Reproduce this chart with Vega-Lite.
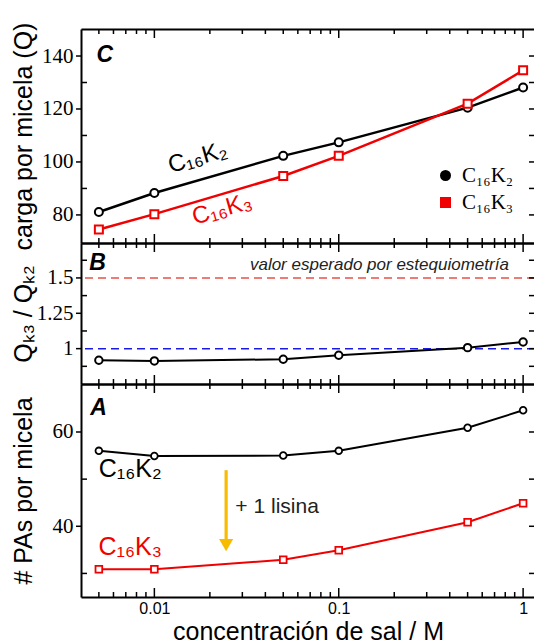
{
  "$schema": "https://vega.github.io/schema/vega-lite/v6.json",
  "padding": {"left": 10, "top": 22, "right": 0, "bottom": 0},
  "spacing": 0,
  "bounds": "flush",
  "resolve": {"scale": {"stroke": "independent", "shape": "independent", "fill": "independent"}, "legend": {"stroke": "independent", "shape": "independent", "fill": "independent"}},
  "config": {
    "view": {"stroke": null},
    "axis": {"grid": false, "domainColor": "#000", "labelColor": "#000", "titleColor": "#000", "labelFont": "Liberation Serif", "titleFont": "Liberation Sans", "titleFontWeight": "normal", "domainWidth": 2, "labelOverlap": false, "labelFlush": false}
  },
  "datasets": {
    "q": [
      {"conc": 0.005, "series": "C₁₆K₂", "value": 81.1},
      {"conc": 0.01, "series": "C₁₆K₂", "value": 88.3},
      {"conc": 0.05, "series": "C₁₆K₂", "value": 102.3},
      {"conc": 0.1, "series": "C₁₆K₂", "value": 107.4},
      {"conc": 0.5, "series": "C₁₆K₂", "value": 120.5},
      {"conc": 1, "series": "C₁₆K₂", "value": 128.1},
      {"conc": 0.005, "series": "C₁₆K₃", "value": 74.5},
      {"conc": 0.01, "series": "C₁₆K₃", "value": 80.3},
      {"conc": 0.05, "series": "C₁₆K₃", "value": 94.7},
      {"conc": 0.1, "series": "C₁₆K₃", "value": 102.3},
      {"conc": 0.5, "series": "C₁₆K₃", "value": 122.0},
      {"conc": 1, "series": "C₁₆K₃", "value": 134.6}
    ],
    "ratio": [
      {"conc": 0.005, "value": 0.918},
      {"conc": 0.01, "value": 0.913},
      {"conc": 0.05, "value": 0.925},
      {"conc": 0.1, "value": 0.953},
      {"conc": 0.5, "value": 1.007},
      {"conc": 1, "value": 1.047}
    ],
    "pas": [
      {"conc": 0.005, "series": "C₁₆K₂", "value": 56.0},
      {"conc": 0.01, "series": "C₁₆K₂", "value": 54.9},
      {"conc": 0.05, "series": "C₁₆K₂", "value": 55.0},
      {"conc": 0.1, "series": "C₁₆K₂", "value": 56.0},
      {"conc": 0.5, "series": "C₁₆K₂", "value": 60.9},
      {"conc": 1, "series": "C₁₆K₂", "value": 64.6},
      {"conc": 0.005, "series": "C₁₆K₃", "value": 30.9},
      {"conc": 0.01, "series": "C₁₆K₃", "value": 30.9},
      {"conc": 0.05, "series": "C₁₆K₃", "value": 32.9},
      {"conc": 0.1, "series": "C₁₆K₃", "value": 34.9},
      {"conc": 0.5, "series": "C₁₆K₃", "value": 40.85},
      {"conc": 1, "series": "C₁₆K₃", "value": 44.9}
    ],
    "cLab": [
      {"conc": 0.0172, "value": 101.5, "series": "C₁₆K₂"},
      {"conc": 0.0233, "value": 82.0, "series": "C₁₆K₃"}
    ],
    "aLab": [
      {"conc": 0.0074, "value": 52.2, "series": "C₁₆K₂"},
      {"conc": 0.0074, "value": 35.6, "series": "C₁₆K₃"}
    ],
    "xMaj": [{"t": 0.01}, {"t": 0.1}, {"t": 1}],
    "xMin": [{"t": 0.005}, {"t": 0.006}, {"t": 0.007}, {"t": 0.008}, {"t": 0.009}, {"t": 0.02}, {"t": 0.03}, {"t": 0.04}, {"t": 0.05}, {"t": 0.06}, {"t": 0.07}, {"t": 0.08}, {"t": 0.09}, {"t": 0.2}, {"t": 0.3}, {"t": 0.4}, {"t": 0.5}, {"t": 0.6}, {"t": 0.7}, {"t": 0.8}, {"t": 0.9}],
    "cYMaj": [{"t": 80}, {"t": 100}, {"t": 120}, {"t": 140}],
    "cYMin": [{"t": 90}, {"t": 110}, {"t": 130}],
    "cYAll": [{"t": 80}, {"t": 90}, {"t": 100}, {"t": 110}, {"t": 120}, {"t": 130}, {"t": 140}],
    "bYMaj": [{"t": 1}, {"t": 1.25}, {"t": 1.5}],
    "bYMin": [{"t": 0.875}, {"t": 1.125}, {"t": 1.375}, {"t": 1.625}],
    "bYAll": [{"t": 0.875}, {"t": 1}, {"t": 1.125}, {"t": 1.25}, {"t": 1.375}, {"t": 1.5}, {"t": 1.625}],
    "aYMaj": [{"t": 40}, {"t": 60}],
    "aYMin": [{"t": 30}, {"t": 50}],
    "aYAll": [{"t": 30}, {"t": 40}, {"t": 50}, {"t": 60}]
  },
  "vconcat": [
    {
      "width": 454, "height": 214,
      "resolve": {"axis": {"x": "independent", "y": "independent"}},
      "layer": [
        {
          "data": {"name": "q"},
          "mark": {"type": "line", "strokeWidth": 2.5},
          "encoding": {
            "x": {"field": "conc", "type": "quantitative", "scale": {"type": "log", "domain": [0.004, 1.16], "nice": false},
              "axis": {"orient": "bottom", "values": [0.01, 0.1, 1], "ticks": false, "labels": false, "title": null}},
            "y": {"field": "value", "type": "quantitative", "scale": {"domain": [69.4, 150.2], "nice": false, "zero": false},
              "axis": {"orient": "left", "values": [80, 100, 120, 140], "ticks": false, "labelFontSize": 21, "labelPadding": 8,
                "title": "carga por micela (Q)", "titleFontSize": 25, "titleX": -45}},
            "stroke": {"field": "series", "type": "nominal", "scale": {"domain": ["C₁₆K₂", "C₁₆K₃"], "range": ["#000000", "#f00000"]},
              "legend": {"orient": "none", "legendX": 354, "legendY": 136, "title": null, "labelFont": "Liberation Serif", "labelFontSize": 21, "labelColor": "#000", "symbolSize": 81, "symbolStrokeWidth": 2, "symbolFillColor": "white", "symbolOpacity": 1, "labelOffset": 6, "rowPadding": 5, "padding": 0,
                "encode": {"symbols": {"update": {"fill": {"value": "white"}, "strokeWidth": {"value": 2}}}}}}
          }
        },
        {
          "data": {"name": "q"},
          "mark": {"type": "point", "fill": "white", "strokeWidth": 2, "size": 64, "opacity": 1},
          "encoding": {
            "x": {"field": "conc", "type": "quantitative", "scale": {"type": "log", "domain": [0.004, 1.16], "nice": false},
              "axis": {"orient": "top", "values": [0.01, 0.1, 1], "ticks": false, "labels": false, "title": null}},
            "y": {"field": "value", "type": "quantitative", "scale": {"domain": [69.4, 150.2], "nice": false, "zero": false}, "axis": null},
            "stroke": {"field": "series", "type": "nominal", "scale": {"domain": ["C₁₆K₂", "C₁₆K₃"], "range": ["#000000", "#f00000"]},
              "legend": {"orient": "none", "legendX": 354, "legendY": 136, "title": null, "labelFont": "Liberation Serif", "labelFontSize": 21, "labelColor": "#000", "symbolSize": 81, "symbolStrokeWidth": 2, "symbolFillColor": "white", "symbolOpacity": 1, "labelOffset": 6, "rowPadding": 5, "padding": 0,
                "encode": {"symbols": {"update": {"fill": {"value": "white"}, "strokeWidth": {"value": 2}}}}}},
            "shape": {"field": "series", "type": "nominal", "scale": {"domain": ["C₁₆K₂", "C₁₆K₃"], "range": ["circle", "square"]},
              "legend": {"orient": "none", "legendX": 354, "legendY": 136, "title": null, "labelFont": "Liberation Serif", "labelFontSize": 21, "labelColor": "#000", "symbolSize": 81, "symbolStrokeWidth": 2, "symbolFillColor": "white", "symbolOpacity": 1, "labelOffset": 6, "rowPadding": 5, "padding": 0,
                "encode": {"symbols": {"update": {"fill": {"value": "white"}, "strokeWidth": {"value": 2}}}}}}
          }
        },
        {
          "data": {"name": "cLab"},
          "mark": {"type": "text", "font": "Liberation Sans", "fontSize": 24, "angle": 344, "align": "center", "baseline": "middle"},
          "encoding": {
            "x": {"field": "conc", "type": "quantitative", "scale": {"type": "log", "domain": [0.004, 1.16], "nice": false}, "axis": null},
            "y": {"field": "value", "type": "quantitative", "scale": {"domain": [69.4, 150.2], "nice": false, "zero": false}, "axis": null},
            "text": {"field": "series"},
            "fill": {"field": "series", "type": "nominal", "scale": {"domain": ["C₁₆K₂", "C₁₆K₃"], "range": ["#000000", "#f00000"]}, "legend": null}
          }
        },
        {
          "data": {"values": [{"conc": 0.00485, "value": 140.4, "label": "C"}]},
          "mark": {"type": "text", "font": "Liberation Sans", "fontSize": 23, "fontWeight": "bold", "fontStyle": "italic", "align": "left", "baseline": "middle", "color": "#000"},
          "encoding": {
            "x": {"field": "conc", "type": "quantitative", "scale": {"type": "log", "domain": [0.004, 1.16], "nice": false}, "axis": null},
            "y": {"field": "value", "type": "quantitative", "scale": {"domain": [69.4, 150.2], "nice": false, "zero": false}, "axis": null},
            "text": {"field": "label"}
          }
        },
        {"data": {"name": "xMaj"}, "mark": {"type": "rule", "strokeWidth": 1.5, "color": "#000"},
          "encoding": {"x": {"field": "t", "type": "quantitative", "scale": {"type": "log", "domain": [0.004, 1.16], "nice": false}, "axis": null},
            "y": {"datum": 69.4, "type": "quantitative", "scale": {"domain": [69.4, 150.2], "nice": false, "zero": false}, "axis": null}, "y2": {"datum": 72.8}}},
        {"data": {"name": "xMin"}, "mark": {"type": "rule", "strokeWidth": 1.5, "color": "#000"},
          "encoding": {"x": {"field": "t", "type": "quantitative", "scale": {"type": "log", "domain": [0.004, 1.16], "nice": false}, "axis": null},
            "y": {"datum": 69.4, "type": "quantitative", "scale": {"domain": [69.4, 150.2], "nice": false, "zero": false}, "axis": null}, "y2": {"datum": 71.29}}},
        {"data": {"name": "xMaj"}, "mark": {"type": "rule", "strokeWidth": 1.5, "color": "#000"},
          "encoding": {"x": {"field": "t", "type": "quantitative", "scale": {"type": "log", "domain": [0.004, 1.16], "nice": false}, "axis": null},
            "y": {"datum": 150.2, "type": "quantitative", "scale": {"domain": [69.4, 150.2], "nice": false, "zero": false}, "axis": null}, "y2": {"datum": 146.8}}},
        {"data": {"name": "xMin"}, "mark": {"type": "rule", "strokeWidth": 1.5, "color": "#000"},
          "encoding": {"x": {"field": "t", "type": "quantitative", "scale": {"type": "log", "domain": [0.004, 1.16], "nice": false}, "axis": null},
            "y": {"datum": 150.2, "type": "quantitative", "scale": {"domain": [69.4, 150.2], "nice": false, "zero": false}, "axis": null}, "y2": {"datum": 148.31}}},
        {"data": {"name": "cYMaj"}, "mark": {"type": "rule", "strokeWidth": 1.5, "color": "#000"},
          "encoding": {"y": {"field": "t", "type": "quantitative", "scale": {"domain": [69.4, 150.2], "nice": false, "zero": false}, "axis": null},
            "x": {"datum": 0.004, "type": "quantitative", "scale": {"type": "log", "domain": [0.004, 1.16], "nice": false}, "axis": null}, "x2": {"datum": 0.003758}}},
        {"data": {"name": "cYMin"}, "mark": {"type": "rule", "strokeWidth": 1.5, "color": "#000"},
          "encoding": {"y": {"field": "t", "type": "quantitative", "scale": {"domain": [69.4, 150.2], "nice": false, "zero": false}, "axis": null},
            "x": {"datum": 0.004, "type": "quantitative", "scale": {"type": "log", "domain": [0.004, 1.16], "nice": false}, "axis": null}, "x2": {"datum": 0.004311}}},
        {"data": {"name": "cYAll"}, "mark": {"type": "rule", "strokeWidth": 1.5, "color": "#000"},
          "encoding": {"y": {"field": "t", "type": "quantitative", "scale": {"domain": [69.4, 150.2], "nice": false, "zero": false}, "axis": null},
            "x": {"datum": 1.16, "type": "quantitative", "scale": {"type": "log", "domain": [0.004, 1.16], "nice": false}, "axis": null}, "x2": {"datum": 1.0763}}}
      ]
    },
    {
      "width": 454, "height": 141,
      "resolve": {"axis": {"x": "independent", "y": "independent"}},
      "layer": [
        {
          "data": {"values": [{"ref": 1.5}]},
          "mark": {"type": "rule", "color": "#e8504a", "strokeDash": [8, 5], "strokeWidth": 1.5},
          "encoding": {"y": {"field": "ref", "type": "quantitative", "scale": {"domain": [0.75, 1.747], "nice": false, "zero": false}, "axis": null}}
        },
        {
          "data": {"values": [{"ref": 1.0}]},
          "mark": {"type": "rule", "color": "#1a1ae6", "strokeDash": [8, 5], "strokeWidth": 1.5},
          "encoding": {"y": {"field": "ref", "type": "quantitative", "scale": {"domain": [0.75, 1.747], "nice": false, "zero": false}, "axis": null}}
        },
        {
          "data": {"name": "ratio"},
          "mark": {"type": "line", "strokeWidth": 2, "color": "#000"},
          "encoding": {
            "x": {"field": "conc", "type": "quantitative", "scale": {"type": "log", "domain": [0.004, 1.16], "nice": false},
              "axis": {"orient": "bottom", "values": [0.01, 0.1, 1], "ticks": false, "labels": false, "title": null}},
            "y": {"field": "value", "type": "quantitative", "scale": {"domain": [0.75, 1.747], "nice": false, "zero": false},
              "axis": {"orient": "left", "values": [1, 1.25, 1.5], "labelExpr": "datum.value == 1 ? '1' : datum.value == 1.25 ? '1.25' : '1.5'", "ticks": false, "labelFontSize": 21, "labelPadding": 8,
                "title": "Qₖ₃ / Qₖ₂", "titleFontSize": 25, "titleX": -45}}
          }
        },
        {
          "data": {"name": "ratio"},
          "mark": {"type": "point", "fill": "white", "stroke": "#000", "strokeWidth": 2, "size": 55, "opacity": 1, "shape": "circle"},
          "encoding": {
            "x": {"field": "conc", "type": "quantitative", "scale": {"type": "log", "domain": [0.004, 1.16], "nice": false},
              "axis": {"orient": "top", "values": [0.01, 0.1, 1], "ticks": false, "labels": false, "title": null}},
            "y": {"field": "value", "type": "quantitative", "scale": {"domain": [0.75, 1.747], "nice": false, "zero": false}, "axis": null}
          }
        },
        {
          "data": {"values": [{"conc": 0.00444, "value": 1.607, "label": "B"}]},
          "mark": {"type": "text", "font": "Liberation Sans", "fontSize": 23, "fontWeight": "bold", "fontStyle": "italic", "align": "left", "baseline": "middle", "color": "#000"},
          "encoding": {
            "x": {"field": "conc", "type": "quantitative", "scale": {"type": "log", "domain": [0.004, 1.16], "nice": false}, "axis": null},
            "y": {"field": "value", "type": "quantitative", "scale": {"domain": [0.75, 1.747], "nice": false, "zero": false}, "axis": null},
            "text": {"field": "label"}
          }
        },
        {
          "data": {"values": [{"conc": 0.837, "value": 1.593, "label": "valor esperado por estequiometría"}]},
          "mark": {"type": "text", "font": "Liberation Sans", "fontSize": 17, "fontStyle": "italic", "align": "right", "baseline": "middle", "color": "#222"},
          "encoding": {
            "x": {"field": "conc", "type": "quantitative", "scale": {"type": "log", "domain": [0.004, 1.16], "nice": false}, "axis": null},
            "y": {"field": "value", "type": "quantitative", "scale": {"domain": [0.75, 1.747], "nice": false, "zero": false}, "axis": null},
            "text": {"field": "label"}
          }
        },
        {"data": {"name": "xMaj"}, "mark": {"type": "rule", "strokeWidth": 1.5, "color": "#000"},
          "encoding": {"x": {"field": "t", "type": "quantitative", "scale": {"type": "log", "domain": [0.004, 1.16], "nice": false}, "axis": null},
            "y": {"datum": 0.75, "type": "quantitative", "scale": {"domain": [0.75, 1.747], "nice": false, "zero": false}, "axis": null}, "y2": {"datum": 0.8136}}},
        {"data": {"name": "xMin"}, "mark": {"type": "rule", "strokeWidth": 1.5, "color": "#000"},
          "encoding": {"x": {"field": "t", "type": "quantitative", "scale": {"type": "log", "domain": [0.004, 1.16], "nice": false}, "axis": null},
            "y": {"datum": 0.75, "type": "quantitative", "scale": {"domain": [0.75, 1.747], "nice": false, "zero": false}, "axis": null}, "y2": {"datum": 0.7854}}},
        {"data": {"name": "xMaj"}, "mark": {"type": "rule", "strokeWidth": 1.5, "color": "#000"},
          "encoding": {"x": {"field": "t", "type": "quantitative", "scale": {"type": "log", "domain": [0.004, 1.16], "nice": false}, "axis": null},
            "y": {"datum": 1.747, "type": "quantitative", "scale": {"domain": [0.75, 1.747], "nice": false, "zero": false}, "axis": null}, "y2": {"datum": 1.6834}}},
        {"data": {"name": "xMin"}, "mark": {"type": "rule", "strokeWidth": 1.5, "color": "#000"},
          "encoding": {"x": {"field": "t", "type": "quantitative", "scale": {"type": "log", "domain": [0.004, 1.16], "nice": false}, "axis": null},
            "y": {"datum": 1.747, "type": "quantitative", "scale": {"domain": [0.75, 1.747], "nice": false, "zero": false}, "axis": null}, "y2": {"datum": 1.7116}}},
        {"data": {"name": "bYMaj"}, "mark": {"type": "rule", "strokeWidth": 1.5, "color": "#000"},
          "encoding": {"y": {"field": "t", "type": "quantitative", "scale": {"domain": [0.75, 1.747], "nice": false, "zero": false}, "axis": null},
            "x": {"datum": 0.004, "type": "quantitative", "scale": {"type": "log", "domain": [0.004, 1.16], "nice": false}, "axis": null}, "x2": {"datum": 0.003758}}},
        {"data": {"name": "bYMin"}, "mark": {"type": "rule", "strokeWidth": 1.5, "color": "#000"},
          "encoding": {"y": {"field": "t", "type": "quantitative", "scale": {"domain": [0.75, 1.747], "nice": false, "zero": false}, "axis": null},
            "x": {"datum": 0.004, "type": "quantitative", "scale": {"type": "log", "domain": [0.004, 1.16], "nice": false}, "axis": null}, "x2": {"datum": 0.004311}}},
        {"data": {"name": "bYAll"}, "mark": {"type": "rule", "strokeWidth": 1.5, "color": "#000"},
          "encoding": {"y": {"field": "t", "type": "quantitative", "scale": {"domain": [0.75, 1.747], "nice": false, "zero": false}, "axis": null},
            "x": {"datum": 1.16, "type": "quantitative", "scale": {"type": "log", "domain": [0.004, 1.16], "nice": false}, "axis": null}, "x2": {"datum": 1.0763}}}
      ]
    },
    {
      "width": 454, "height": 213,
      "resolve": {"axis": {"x": "independent", "y": "independent"}},
      "layer": [
        {
          "data": {"name": "pas"},
          "mark": {"type": "line", "strokeWidth": 2},
          "encoding": {
            "x": {"field": "conc", "type": "quantitative", "scale": {"type": "log", "domain": [0.004, 1.16], "nice": false},
              "axis": {"orient": "bottom", "values": [0.01, 0.1, 1], "ticks": false,
                "labelExpr": "datum.value == 0.01 ? '0.01' : datum.value == 0.1 ? '0.1' : '1'", "labelFont": "Liberation Sans", "labelFontSize": 16, "labelPadding": 3,
                "title": "concentración de sal / M", "titleFontSize": 25, "titlePadding": 3}},
            "y": {"field": "value", "type": "quantitative", "scale": {"domain": [25, 70.18], "nice": false, "zero": false},
              "axis": {"orient": "left", "values": [40, 60], "ticks": false, "labelFontSize": 21, "labelPadding": 8,
                "title": "# PAs por micela", "titleFontSize": 25, "titleX": -45}},
            "stroke": {"field": "series", "type": "nominal", "scale": {"domain": ["C₁₆K₂", "C₁₆K₃"], "range": ["#000000", "#f00000"]}, "legend": null}
          }
        },
        {
          "data": {"name": "pas"},
          "transform": [{"filter": "datum.series == 'C₁₆K₂'"}],
          "mark": {"type": "point", "shape": "circle", "fill": "white", "stroke": "#000000", "strokeWidth": 1.8, "size": 45, "opacity": 1},
          "encoding": {
            "x": {"field": "conc", "type": "quantitative", "scale": {"type": "log", "domain": [0.004, 1.16], "nice": false},
              "axis": {"orient": "top", "values": [0.01, 0.1, 1], "ticks": false, "labels": false, "title": null}},
            "y": {"field": "value", "type": "quantitative", "scale": {"domain": [25, 70.18], "nice": false, "zero": false}, "axis": null}
          }
        },
        {
          "data": {"name": "pas"},
          "transform": [{"filter": "datum.series == 'C₁₆K₃'"}],
          "mark": {"type": "point", "shape": "square", "fill": "white", "stroke": "#f00000", "strokeWidth": 1.8, "size": 45, "opacity": 1},
          "encoding": {
            "x": {"field": "conc", "type": "quantitative", "scale": {"type": "log", "domain": [0.004, 1.16], "nice": false}, "axis": null},
            "y": {"field": "value", "type": "quantitative", "scale": {"domain": [25, 70.18], "nice": false, "zero": false}, "axis": null}
          }
        },
        {
          "data": {"name": "aLab"},
          "mark": {"type": "text", "font": "Liberation Sans", "fontSize": 25, "align": "center", "baseline": "middle"},
          "encoding": {
            "x": {"field": "conc", "type": "quantitative", "scale": {"type": "log", "domain": [0.004, 1.16], "nice": false}, "axis": null},
            "y": {"field": "value", "type": "quantitative", "scale": {"domain": [25, 70.18], "nice": false, "zero": false}, "axis": null},
            "text": {"field": "series"},
            "fill": {"field": "series", "type": "nominal", "scale": {"domain": ["C₁₆K₂", "C₁₆K₃"], "range": ["#000000", "#f00000"]}, "legend": null}
          }
        },
        {
          "data": {"values": [{"conc": 0.00449, "value": 65.1, "label": "A"}]},
          "mark": {"type": "text", "font": "Liberation Sans", "fontSize": 23, "fontWeight": "bold", "fontStyle": "italic", "align": "left", "baseline": "middle", "color": "#000"},
          "encoding": {
            "x": {"field": "conc", "type": "quantitative", "scale": {"type": "log", "domain": [0.004, 1.16], "nice": false}, "axis": null},
            "y": {"field": "value", "type": "quantitative", "scale": {"domain": [25, 70.18], "nice": false, "zero": false}, "axis": null},
            "text": {"field": "label"}
          }
        },
        {
          "data": {"values": [{"conc": 0.0245, "top": 51.9, "bottom": 37.0}]},
          "mark": {"type": "rule", "color": "#f7bb00", "strokeWidth": 3.2},
          "encoding": {
            "x": {"field": "conc", "type": "quantitative", "scale": {"type": "log", "domain": [0.004, 1.16], "nice": false}, "axis": null},
            "y": {"field": "top", "type": "quantitative", "scale": {"domain": [25, 70.18], "nice": false, "zero": false}, "axis": null},
            "y2": {"field": "bottom"}
          }
        },
        {
          "data": {"values": [{"conc": 0.0245, "value": 36.0}]},
          "mark": {"type": "point", "shape": "triangle-down", "filled": true, "color": "#f7bb00", "size": 200, "opacity": 1},
          "encoding": {
            "x": {"field": "conc", "type": "quantitative", "scale": {"type": "log", "domain": [0.004, 1.16], "nice": false}, "axis": null},
            "y": {"field": "value", "type": "quantitative", "scale": {"domain": [25, 70.18], "nice": false, "zero": false}, "axis": null}
          }
        },
        {
          "data": {"values": [{"conc": 0.0275, "value": 44.1, "label": "+ 1 lisina"}]},
          "mark": {"type": "text", "font": "Liberation Sans", "fontSize": 21, "align": "left", "baseline": "middle", "color": "#222"},
          "encoding": {
            "x": {"field": "conc", "type": "quantitative", "scale": {"type": "log", "domain": [0.004, 1.16], "nice": false}, "axis": null},
            "y": {"field": "value", "type": "quantitative", "scale": {"domain": [25, 70.18], "nice": false, "zero": false}, "axis": null},
            "text": {"field": "label"}
          }
        },
        {"data": {"name": "xMaj"}, "mark": {"type": "rule", "strokeWidth": 1.5, "color": "#000"},
          "encoding": {"x": {"field": "t", "type": "quantitative", "scale": {"type": "log", "domain": [0.004, 1.16], "nice": false}, "axis": null},
            "y": {"datum": 25, "type": "quantitative", "scale": {"domain": [25, 70.18], "nice": false, "zero": false}, "axis": null}, "y2": {"datum": 26.91}}},
        {"data": {"name": "xMin"}, "mark": {"type": "rule", "strokeWidth": 1.5, "color": "#000"},
          "encoding": {"x": {"field": "t", "type": "quantitative", "scale": {"type": "log", "domain": [0.004, 1.16], "nice": false}, "axis": null},
            "y": {"datum": 25, "type": "quantitative", "scale": {"domain": [25, 70.18], "nice": false, "zero": false}, "axis": null}, "y2": {"datum": 26.06}}},
        {"data": {"name": "xMaj"}, "mark": {"type": "rule", "strokeWidth": 1.5, "color": "#000"},
          "encoding": {"x": {"field": "t", "type": "quantitative", "scale": {"type": "log", "domain": [0.004, 1.16], "nice": false}, "axis": null},
            "y": {"datum": 70.18, "type": "quantitative", "scale": {"domain": [25, 70.18], "nice": false, "zero": false}, "axis": null}, "y2": {"datum": 68.27}}},
        {"data": {"name": "xMin"}, "mark": {"type": "rule", "strokeWidth": 1.5, "color": "#000"},
          "encoding": {"x": {"field": "t", "type": "quantitative", "scale": {"type": "log", "domain": [0.004, 1.16], "nice": false}, "axis": null},
            "y": {"datum": 70.18, "type": "quantitative", "scale": {"domain": [25, 70.18], "nice": false, "zero": false}, "axis": null}, "y2": {"datum": 69.12}}},
        {"data": {"name": "aYMaj"}, "mark": {"type": "rule", "strokeWidth": 1.5, "color": "#000"},
          "encoding": {"y": {"field": "t", "type": "quantitative", "scale": {"domain": [25, 70.18], "nice": false, "zero": false}, "axis": null},
            "x": {"datum": 0.004, "type": "quantitative", "scale": {"type": "log", "domain": [0.004, 1.16], "nice": false}, "axis": null}, "x2": {"datum": 0.003758}}},
        {"data": {"name": "aYMin"}, "mark": {"type": "rule", "strokeWidth": 1.5, "color": "#000"},
          "encoding": {"y": {"field": "t", "type": "quantitative", "scale": {"domain": [25, 70.18], "nice": false, "zero": false}, "axis": null},
            "x": {"datum": 0.004, "type": "quantitative", "scale": {"type": "log", "domain": [0.004, 1.16], "nice": false}, "axis": null}, "x2": {"datum": 0.004311}}},
        {"data": {"name": "aYAll"}, "mark": {"type": "rule", "strokeWidth": 1.5, "color": "#000"},
          "encoding": {"y": {"field": "t", "type": "quantitative", "scale": {"domain": [25, 70.18], "nice": false, "zero": false}, "axis": null},
            "x": {"datum": 1.16, "type": "quantitative", "scale": {"type": "log", "domain": [0.004, 1.16], "nice": false}, "axis": null}, "x2": {"datum": 1.0763}}}
      ]
    }
  ]
}
